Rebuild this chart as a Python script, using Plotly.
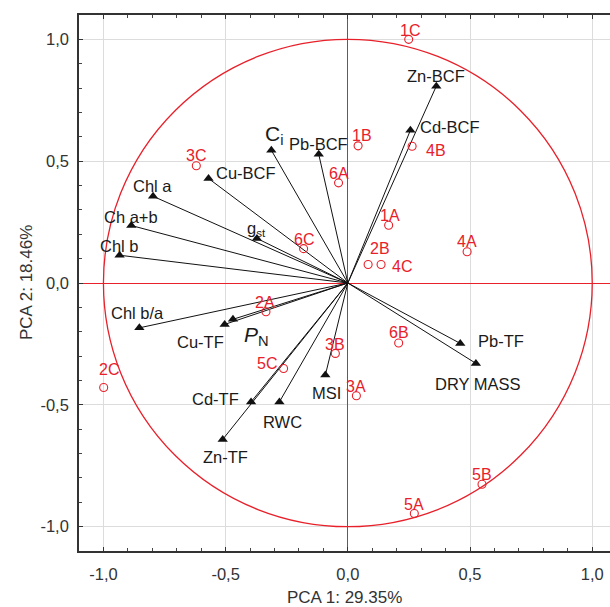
import plotly.graph_objects as go

# ---- data ----
var_names = ["C<sub>i</sub>", "Pb-BCF", "Cu-BCF", "Chl a", "Ch a+b", "Chl b", "g<sub>st</sub>",
             "Zn-BCF", "Cd-BCF", "Chl b/a", "Cu-TF", "<i>P</i><sub>N</sub>", "Cd-TF", "RWC",
             "Zn-TF", "MSI", "Pb-TF", "DRY MASS"]
var_pc1 = [-0.313, -0.119, -0.570, -0.797, -0.886, -0.934, -0.372,
           0.362, 0.256, -0.853, -0.504, -0.470, -0.396, -0.280,
           -0.512, -0.092, 0.460, 0.524]
var_pc2 = [0.545, 0.528, 0.429, 0.356, 0.236, 0.114, 0.183,
           0.808, 0.627, -0.184, -0.170, -0.149, -0.488, -0.488,
           -0.642, -0.378, -0.248, -0.330]

case_names = ["1C", "1B", "4B", "6A", "1A", "4A", "2B", "4C", "3C", "6C",
              "2A", "5C", "2C", "3B", "3A", "6B", "5B", "5A"]
case_pc1 = [0.249, 0.042, 0.263, -0.038, 0.167, 0.488, 0.083, 0.136, -0.620, -0.181,
            -0.335, -0.263, -0.999, -0.051, 0.035, 0.208, 0.549, 0.272]
case_pc2 = [1.000, 0.563, 0.561, 0.411, 0.237, 0.128, 0.076, 0.076, 0.481, 0.141,
            -0.118, -0.351, -0.429, -0.289, -0.463, -0.246, -0.826, -0.946]

tick_vals = [-1.0, -0.5, 0.0, 0.5, 1.0]
tick_text = ["-1,0", "-0,5", "0,0", "0,5", "1,0"]
x_title = "PCA 1: 29.35%"
y_title = "PCA 2: 18.46%"

# ---- label offsets in pixels (dx right, dy down) ----
var_offsets = {
    "C<sub>i</sub>": (3, -15), "Pb-BCF": (0, -10), "Cu-BCF": (37, -5), "Chl a": (-1, -10),
    "Ch a+b": (0, -9), "Chl b": (0, -9), "g<sub>st</sub>": (0, -9), "Zn-BCF": (0, -10),
    "Cd-BCF": (40, -3), "Chl b/a": (-2, -15), "Cu-TF": (-24, 18), "<i>P</i><sub>N</sub>": (24, 17),
    "Cd-TF": (-36, -3), "RWC": (3, 20), "Zn-TF": (3, 18), "MSI": (1, 18),
    "Pb-TF": (41, -2), "DRY MASS": (2, 21),
}
label_sizes = {"C<sub>i</sub>": 21, "<i>P</i><sub>N</sub>": 21, "g<sub>st</sub>": 16.5}
case_offsets = {
    "1C": (1, -9), "1B": (4, -10), "4B": (24, 4), "6A": (0, -9), "1A": (1, -10),
    "4A": (0, -10), "2B": (12, -16), "4C": (21, 2), "3C": (0, -10), "6C": (0, -9),
    "2A": (-1, -9), "5C": (-17, -5), "2C": (5, -18), "3B": (0, -9), "3A": (0, -9),
    "6B": (0, -10), "5B": (0, -10), "5A": (0, -9),
}

RED = "#e8202a"
FONT = "Liberation Sans, Arial, sans-serif"

fig = go.Figure()

# vectors
lx, ly = [], []
for x, y in zip(var_pc1, var_pc2):
    lx += [0, x, None]
    ly += [0, y, None]
fig.add_trace(go.Scatter(x=lx, y=ly, mode="lines", line=dict(color="#111111", width=1),
                         hoverinfo="skip", showlegend=False))
fig.add_trace(go.Scatter(x=var_pc1, y=var_pc2, mode="markers",
                         marker=dict(symbol="triangle-up", size=9, color="#111111"),
                         showlegend=False))
# cases
fig.add_trace(go.Scatter(x=case_pc1, y=case_pc2, mode="markers",
                         marker=dict(symbol="circle-open", size=8, color=RED, line=dict(width=1.1)),
                         showlegend=False))

# unit circle
fig.add_shape(type="circle", xref="x", yref="y", x0=-1, y0=-1, x1=1, y1=1,
              line=dict(color=RED, width=1.3), layer="between")

ann = []
for n, x, y in zip(var_names, var_pc1, var_pc2):
    dx, dy = var_offsets[n]
    ann.append(dict(x=x, y=y, xref="x", yref="y", text=n, showarrow=False,
                    xshift=dx, yshift=-dy,
                    font=dict(size=label_sizes.get(n, 16.5), color="#1a1a1a", family=FONT)))
for n, x, y in zip(case_names, case_pc1, case_pc2):
    dx, dy = case_offsets[n]
    ann.append(dict(x=x, y=y, xref="x", yref="y", text=n, showarrow=False,
                    xshift=dx, yshift=-dy, font=dict(size=16, color=RED, family=FONT)))
# axis titles
ann.append(dict(x=0.5, y=0, xref="paper", yref="paper", text=x_title, showarrow=False,
                yanchor="middle", yshift=-46, font=dict(size=17, color="#333333", family=FONT)))
ann.append(dict(x=0, y=0.5, xref="paper", yref="paper", text=y_title, showarrow=False,
                textangle=-90, xanchor="center", xshift=-53,
                font=dict(size=17, color="#333333", family=FONT)))

axis_common = dict(
    tickvals=tick_vals, ticktext=tick_text, showgrid=True, gridcolor="#dcdcdc", gridwidth=1,
    zeroline=True, zerolinecolor=RED, zerolinewidth=1.3,
    showline=True, linecolor="#333333", linewidth=1.6,
    ticks="inside", ticklen=4, tickcolor="#333333",
    minor=dict(dtick=0.1, ticks="inside", ticklen=3, tickcolor="#444444", showgrid=False),
    tickfont=dict(size=16.5, color="#333333", family=FONT),
)

fig.update_layout(
    width=610, height=607,
    margin=dict(l=79, r=0, t=15, b=56),
    paper_bgcolor="white", plot_bgcolor="white",
    annotations=ann,
    showlegend=False,
    xaxis=dict(range=[-1.1, 1.0727], mirror="ticks", ticklabelstandoff=7, **axis_common),
    yaxis=dict(range=[-1.1, 1.1], mirror=False, ticklabelstandoff=5, **axis_common),
)

fig.write_html("out.html")
